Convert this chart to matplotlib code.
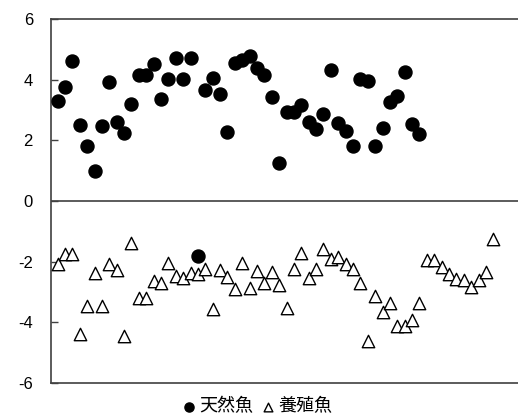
import matplotlib
matplotlib.use("Agg")
import matplotlib.pyplot as plt
import numpy as np

plt.rcParams['font.family'] = ['Liberation Sans', 'Noto Sans CJK JP', 'DejaVu Sans']

# wild fish (filled circles), one point per sample
wild = [3.31, 3.77, 4.63, 2.50, 1.82, 1.00, 2.47, 3.91, 2.59, 2.25,
        3.20, 4.15, 4.15, 4.52, 3.35, 4.03, 4.72, 4.03, 4.72, -1.81,
        3.65, 4.07, 3.54, 2.27, 4.56, 4.65, 4.79, 4.39, 4.16, 3.43,
        1.26, 2.94, 2.94, 3.17, 2.61, 2.38, 2.86, 4.33, 2.56, 2.31,
        1.82, 4.03, 3.95, 1.82, 2.40, 3.25, 3.47, 4.26, 2.53, 2.22]

# farmed fish (open triangles)
farmed = [-2.08, -1.75, -1.75, -4.39, -3.46, -2.36, -3.46, -2.08, -2.27, -4.45,
          -1.37, -3.19, -3.19, -2.64, -2.69, -2.03, -2.47, -2.55, -2.36, -2.41,
          -2.24, -3.57, -2.27, -2.49, -2.91, -2.03, -2.86, -2.31, -2.71, -2.34,
          -2.76, -3.52, -2.23, -1.70, -2.53, -2.23, -1.57, -1.92, -1.84, -2.09,
          -2.23, -2.71, -4.62, -3.14, -3.67, -3.36, -4.13, -4.11, -3.92, -3.36,
          -1.96, -1.96, -2.18, -2.40, -2.56, -2.62, -2.84, -2.62, -2.35, -1.24]

labels = ['天然魚', '養殖魚']
yticks = [-6, -4, -2, 0, 2, 4, 6]

fig = plt.figure(figsize=(5.18, 4.16), dpi=100)
ax = fig.add_axes([51 / 518, 1 - 383 / 416, 480 / 518, 364 / 416])

ax.scatter(np.arange(len(farmed)), farmed, marker='^', s=80, facecolor='white',
           edgecolor='black', linewidths=1.0, label=labels[1], zorder=3)
ax.scatter(np.arange(len(wild)), wild, marker='o', s=88, color='black',
           label=labels[0], zorder=4)

ax.axhline(0, color='#404040', lw=1.2, zorder=1)

ax.set_xlim(-0.9, 64.1)
ax.set_ylim(-6, 6)
ax.set_yticks(yticks)
ax.set_yticklabels([str(t) for t in yticks])
ax.set_xticks([])
ax.tick_params(axis='y', direction='in', length=5, width=1, colors='#404040',
               labelcolor='black', labelsize=12, pad=13)
for s in ['left', 'top', 'bottom']:
    ax.spines[s].set_color('#404040')
    ax.spines[s].set_linewidth(1.2)
ax.spines['right'].set_visible(False)

h, l = ax.get_legend_handles_labels()
leg = ax.legend(h[::-1], l[::-1], loc='upper center', bbox_to_anchor=((258 - 51) / 480, -0.02),
                ncol=2, frameon=False, markerscale=0.7, handlelength=0.6,
                handletextpad=0.3, columnspacing=0.5, borderaxespad=0,
                prop={'family': ['Noto Sans CJK JP'], 'size': 13})

fig.savefig('out.png', dpi=100)
